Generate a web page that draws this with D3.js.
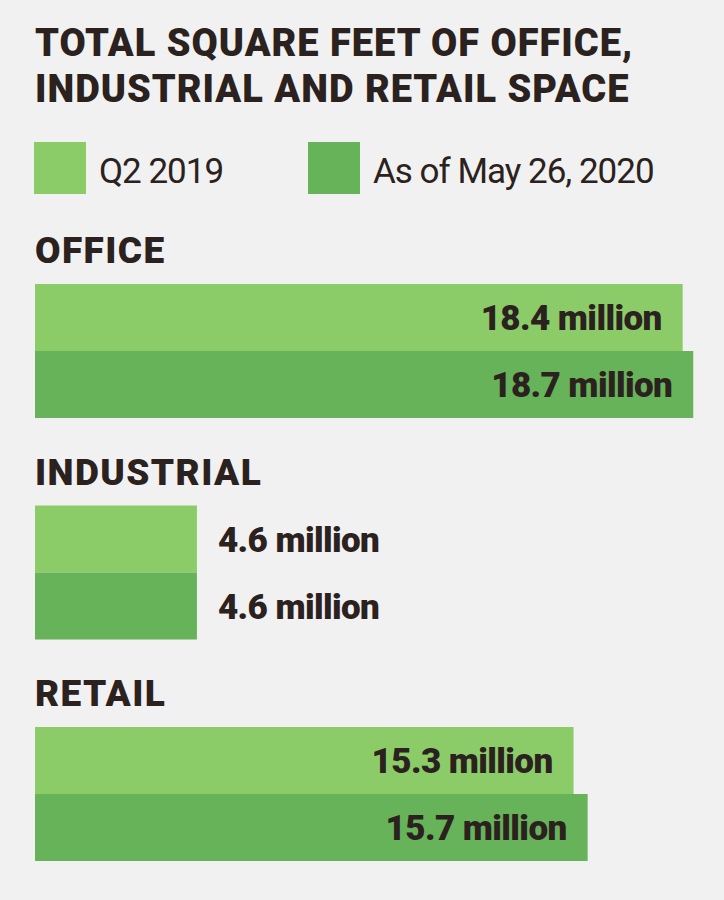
<!DOCTYPE html>
<html>
  <head>
    <meta charset="utf-8" />
    <script src="https://d3js.org/d3.v7.min.js"></script>
    <style>
      html,
      body {
        margin: 0;
        padding: 0;
        background: #f1f1f1;
      }
      svg {
        display: block;
      }
      .bold {
        font-family: "Roboto", "Lato", sans-serif;
        font-weight: 900;
        fill: #2b2220;
      }
      .light {
        font-family: "Roboto", sans-serif;
        font-weight: 400;
        letter-spacing: -1px;
        fill: #2b2220;
      }
    </style>
  </head>
  <body>
    <svg id="chart"></svg>

    <script>
      // Data
      var titleLines = [
        "TOTAL SQUARE FEET OF OFFICE,",
        "INDUSTRIAL AND RETAIL SPACE",
      ];
      var series = ["Q2 2019", "As of May 26, 2020"];
      var categories = ["OFFICE", "INDUSTRIAL", "RETAIL"];
      var q2_2019 = [18.4, 4.6, 15.3];
      var may2020 = [18.7, 4.6, 15.7];

      var width = 724;
      var height = 900;
      var colors = ["#8bcc69", "#67b35a"];

      var svg = d3
        .select("#chart")
        .attr("width", width)
        .attr("height", height);

      svg
        .append("rect")
        .attr("width", width)
        .attr("height", height)
        .attr("fill", "#f1f1f1");

      // Title
      svg
        .append("g")
        .selectAll("text")
        .data(titleLines)
        .join("text")
        .attr("class", "bold")
        .attr("x", 35)
        .attr("y", (d, i) => 56 + i * 46)
        .style("font-size", "38px")
        .style("letter-spacing", "1px")
        .text((d) => d);

      // Legend
      var legend = svg
        .append("g")
        .selectAll("g")
        .data(series)
        .join("g")
        .attr("transform", (d, i) => `translate(${[34, 308][i]},142)`);

      legend
        .append("rect")
        .attr("width", 52)
        .attr("height", 52)
        .attr("fill", (d, i) => colors[i]);

      legend
        .append("text")
        .attr("class", "light")
        .attr("x", 65)
        .attr("y", 41)
        .style("font-size", "35px")
        .text((d) => d);

      // Scales
      var x = d3.scaleLinear().domain([0, 20]).range([35, 739]);

      var yGroup = d3
        .scaleBand()
        .domain(categories)
        .range([284, 284 + 3 * 221.5]);

      var yInner = d3.scaleBand().domain(series).range([0, 134]);

      var rows = categories.map((c, i) => ({
        category: c,
        values: [
          { series: series[0], value: q2_2019[i] },
          { series: series[1], value: may2020[i] },
        ],
      }));

      var groups = svg
        .append("g")
        .selectAll("g")
        .data(rows)
        .join("g")
        .attr("transform", (d) => `translate(0,${yGroup(d.category)})`);

      // Category headings
      groups
        .append("text")
        .attr("class", "bold")
        .attr("x", 35)
        .attr("y", -21)
        .style("font-size", "37px")
        .style("letter-spacing", "1.4px")
        .text((d) => d.category);

      // Bars
      groups
        .selectAll("rect")
        .data((d) => d.values)
        .join("rect")
        .attr("x", x(0))
        .attr("y", (d) => yInner(d.series))
        .attr("width", (d) => x(d.value) - x(0))
        .attr("height", yInner.bandwidth())
        .attr("fill", (d) => colors[series.indexOf(d.series)]);

      // Value labels, inside the bar when there is room, otherwise after it
      var labelSize = 35;
      groups
        .selectAll("text.value")
        .data((d) => d.values)
        .join("text")
        .attr("class", "bold value")
        .style("font-size", labelSize + "px")
        .style("letter-spacing", "-0.6px")
        .attr("y", (d) => yInner(d.series) + yInner.bandwidth() / 2 + labelSize * 0.36)
        .text((d) => d.value + " million")
        .each(function (d) {
          var w = this.getComputedTextLength();
          var barW = x(d.value) - x(0);
          var t = d3.select(this);
          if (barW > w + 60) {
            t.attr("x", x(d.value) - 21).attr("text-anchor", "end");
          } else {
            t.attr("x", x(d.value) + 21).attr("text-anchor", "start");
          }
        });
    </script>
  </body>
</html>
